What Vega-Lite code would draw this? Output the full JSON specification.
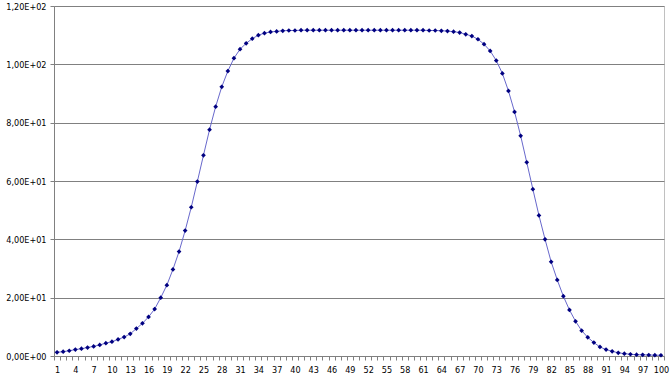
{
  "$schema": "https://vega.github.io/schema/vega-lite/v6.json",
  "width": 610,
  "height": 350,
  "autosize": {"type": "none"},
  "padding": {"left": 54, "top": 6, "right": 8, "bottom": 27},
  "background": "white",
  "config": {
    "view": {"stroke": "#c0c0c0", "strokeWidth": 1},
    "axis": {"labelFont": "Liberation Sans Narrow, DejaVu Sans Condensed, Liberation Sans, sans-serif", "labelFontSize": 9, "labelColor": "#000000", "domainColor": "#808080", "tickColor": "#808080", "title": null}
  },
  "data": {
    "values": [
      {"x": 1, "y": 1.27}, {"x": 2, "y": 1.5}, {"x": 3, "y": 1.8}, {"x": 4, "y": 2.2}, {"x": 5, "y": 2.5},
      {"x": 6, "y": 2.9}, {"x": 7, "y": 3.3}, {"x": 8, "y": 3.8}, {"x": 9, "y": 4.4}, {"x": 10, "y": 4.9},
      {"x": 11, "y": 5.7}, {"x": 12, "y": 6.5}, {"x": 13, "y": 7.6}, {"x": 14, "y": 9.4}, {"x": 15, "y": 11.2},
      {"x": 16, "y": 13.4}, {"x": 17, "y": 16.1}, {"x": 18, "y": 20.0}, {"x": 19, "y": 24.3}, {"x": 20, "y": 29.7},
      {"x": 21, "y": 35.8}, {"x": 22, "y": 43.0}, {"x": 23, "y": 51.0}, {"x": 24, "y": 59.8}, {"x": 25, "y": 68.8},
      {"x": 26, "y": 77.6}, {"x": 27, "y": 85.5}, {"x": 28, "y": 92.3}, {"x": 29, "y": 97.7}, {"x": 30, "y": 102.1},
      {"x": 31, "y": 105.2}, {"x": 32, "y": 107.2}, {"x": 33, "y": 108.8}, {"x": 34, "y": 110.0}, {"x": 35, "y": 110.7},
      {"x": 36, "y": 111.1}, {"x": 37, "y": 111.3}, {"x": 38, "y": 111.5}, {"x": 39, "y": 111.6}, {"x": 40, "y": 111.6},
      {"x": 41, "y": 111.7}, {"x": 42, "y": 111.7}, {"x": 43, "y": 111.7}, {"x": 44, "y": 111.7}, {"x": 45, "y": 111.7},
      {"x": 46, "y": 111.7}, {"x": 47, "y": 111.7}, {"x": 48, "y": 111.7}, {"x": 49, "y": 111.7}, {"x": 50, "y": 111.7},
      {"x": 51, "y": 111.7}, {"x": 52, "y": 111.7}, {"x": 53, "y": 111.7}, {"x": 54, "y": 111.7}, {"x": 55, "y": 111.7},
      {"x": 56, "y": 111.7}, {"x": 57, "y": 111.7}, {"x": 58, "y": 111.7}, {"x": 59, "y": 111.7}, {"x": 60, "y": 111.7},
      {"x": 61, "y": 111.7}, {"x": 62, "y": 111.6}, {"x": 63, "y": 111.6}, {"x": 64, "y": 111.5}, {"x": 65, "y": 111.4},
      {"x": 66, "y": 111.2}, {"x": 67, "y": 110.9}, {"x": 68, "y": 110.3}, {"x": 69, "y": 109.7}, {"x": 70, "y": 108.6},
      {"x": 71, "y": 106.9}, {"x": 72, "y": 104.6}, {"x": 73, "y": 101.3}, {"x": 74, "y": 96.9}, {"x": 75, "y": 90.9},
      {"x": 76, "y": 83.7}, {"x": 77, "y": 75.5}, {"x": 78, "y": 66.4}, {"x": 79, "y": 57.2}, {"x": 80, "y": 48.2},
      {"x": 81, "y": 40.0}, {"x": 82, "y": 32.3}, {"x": 83, "y": 26.1}, {"x": 84, "y": 20.5}, {"x": 85, "y": 15.8},
      {"x": 86, "y": 11.9}, {"x": 87, "y": 8.7}, {"x": 88, "y": 6.4}, {"x": 89, "y": 4.6}, {"x": 90, "y": 3.1},
      {"x": 91, "y": 2.2}, {"x": 92, "y": 1.6}, {"x": 93, "y": 1.1}, {"x": 94, "y": 0.8}, {"x": 95, "y": 0.6},
      {"x": 96, "y": 0.45}, {"x": 97, "y": 0.4}, {"x": 98, "y": 0.35}, {"x": 99, "y": 0.3}, {"x": 100, "y": 0.25}
    ]
  },
  "encoding": {
    "x": {
      "field": "x",
      "type": "ordinal",
      "scale": {"type": "band", "paddingInner": 0, "paddingOuter": 0},
      "axis": {
        "labelAngle": 0,
        "tickBand": "extent",
        "tickSize": 4,
        "labelPadding": 5,
        "labelOverlap": false,
        "labelExpr": "(datum.value - 1) % 3 === 0 ? datum.label : ''"
      }
    },
    "y": {
      "field": "y",
      "type": "quantitative",
      "scale": {"domain": [0, 120], "nice": false, "zero": true},
      "axis": {
        "values": [0, 20, 40, 60, 80, 100, 120],
        "grid": true,
        "gridColor": "#808080",
        "gridOpacity": 1,
        "tickSize": 4,
        "labelPadding": 4,
        "labelExpr": "datum.value == 0 ? '0,00E+00' : (datum.value < 100 ? replace(format(datum.value / 10, '.2f'), '.', ',') + 'E+01' : replace(format(datum.value / 100, '.2f'), '.', ',') + 'E+02')"
      }
    }
  },
  "layer": [
    {"mark": {"type": "line", "color": "#6868cc", "strokeWidth": 1}},
    {"mark": {"type": "point", "shape": "diamond", "filled": true, "color": "#000080", "size": 22, "opacity": 1}}
  ]
}
